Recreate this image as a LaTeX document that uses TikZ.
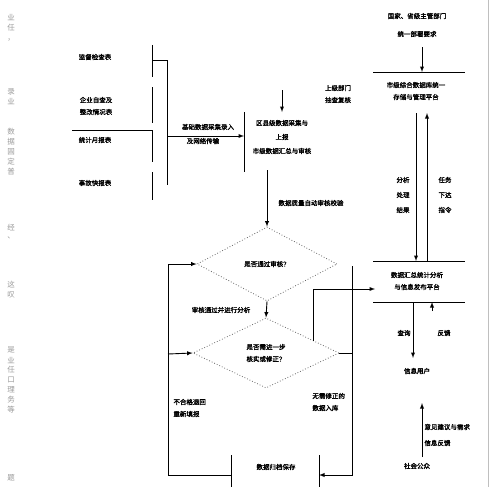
\documentclass[tikz,border=0pt]{standalone}
\usepackage{fontspec}
\setmainfont{Noto Sans CJK SC}
\newfontfamily\heavy{Noto Sans CJK SC}[FakeBold=1.6]
\usetikzlibrary{shapes.geometric,calc}
\tikzset{>=latex}
\tikzset{
  txt/.style={font=\heavy\fontsize{6.5}{12}\selectfont,align=center,inner sep=0pt},
  judge/.style={diamond,draw=black!60,dotted,thick,text=black,inner sep=0pt,
    font=\heavy\fontsize{6.5}{12}\selectfont,align=center},
  margin/.style={font=\fontsize{7.5}{8}\selectfont,text=black!40,inner sep=0pt}
}

\begin{document}
\begin{tikzpicture}[x=1pt,y=-1pt,line width=0.9pt]
    \useasboundingbox (0,0) rectangle (494,487);
    % neighbouring column of the page
    \foreach\ch/\yy in {业/18,任/28,，/40,录/92,业/101,数/132,据/142,固/152,定/162,普/172,
      经/228,、/238,这/285,叹/295,是/350,业/360,任/370,口/380,理/390,务/400,等/410,题/478}{
     \node[margin] at (11,\yy) {\ch};}
    \draw[black!25,line width=0.5pt] (488,0) -- (488,487);
    % sources
    \node[txt] (jc) at (95,57) {监督检查表};
    \node[txt] (zc) at (96,106) {企业自查及\\整改情况表};
    \node[txt] (tj) at (95,140) {统计月报表};
    \node[txt] (sg) at (95,183) {事故快报表};
    \draw (152,45) -- (152,77) (152,87) -- (152,123) (152,130) -- (152,162) (152,172) -- (152,200);
    \draw (72,130) -- (152,130);
    \draw (152,60) -- (167,60) -- (167,185);
    \coordinate (busout) at (167,136);
    \coordinate (qxin) at (244,136);
    \draw[->] (busout) -- (qxin);
    \node[txt] (cj) at (208,127) {基础数据采集录入};
    \node[txt] (cs) at (203,141) {及网络传输};
    % collection
    \draw (244,112) -- (244,172);
    \node[txt,font=\heavy\fontsize{6.5}{14}\selectfont] (qx) at (282,137) {区县级数据采集与\\上报\\市级数据汇总与审核};
    \coordinate (qxtop) at (282,90);
    \coordinate (qxarr) at (282,112);
    \draw[->] (qxtop) -- (qxarr);
    \node[txt] (bm) at (338,94) {上级部门\\抽查复核};
    \coordinate (qxout) at (267,170);
    \node[judge,minimum width=140pt,minimum height=74pt] (d1) at (267,264) {是否通过审核？};
    \node[judge,minimum width=146pt,minimum height=70pt] (d2) at (266,353) {是否需进一步\\核实或修正？};
    \draw[->] (qxout) -- (d1.north);
    \node[txt] (sh) at (311,203) {数据质量自动审核校验};
    \draw[->] (d1.south) -- (d2.north);
    \node[txt] (fx) at (221,310) {审核通过并进行分析};
    % end
    \draw (231,455) -- (231,487) (319,455) -- (319,487);
    \node[txt] (gd) at (276,467) {数据归档保存};
    \coordinate (endl) at (231,475);
    \coordinate (endr) at (319,475);
    \coordinate (lloop) at (168,354);
    \draw[->] (endl) -- ++(-63,0) |- (d1.west);
    \draw[->] (lloop) -- (d2.west);
    \node[txt,align=left,anchor=west] (th) at (173,408) {不合格退回\\重新填报};
    \coordinate (rloop) at (352,266);
    \draw (d2.east) -- (d2.east -| rloop);
    \draw[->] (rloop) |- (endr);
    \node[txt,align=left,anchor=west] (rk) at (312,402) {无需修正的\\数据入库};
    \coordinate (d2ne) at ($(d2.north)!0.65!(d2.east)$);
    \coordinate (hzin) at (375,289);
    \draw[->] (d2ne) |- (hzin);
    % right column
    \node[txt] (sj) at (417,25) {国家、省级主管部门\\[6pt]统一部署要求};
    \coordinate (sjout) at (422,47);
    \coordinate (skin) at (422,72);
    \draw[->] (sjout) -- (skin);
    \draw (373,72) -- (465,72) (373,261) -- (465,261) (373,302) -- (465,302);
    \node[txt] (sk) at (416,91) {市级综合数据库统一\\存储与管理平台};
    \coordinate (skl) at (416,113);
    \coordinate (hzl) at (416,261);
    \coordinate (skr) at (427,113);
    \coordinate (hzr) at (427,261);
    \draw[->] (skl) -- (hzl);
    \draw[->] (hzr) -- (skr);
    \node[txt,font=\heavy\fontsize{6.5}{15}\selectfont] (zl) at (403,195) {分析\\处理\\结果};
    \node[txt,font=\heavy\fontsize{6.5}{15}\selectfont] (zr) at (445,195) {任务\\下达\\指令};
    \node[txt] (hz) at (417,281) {数据汇总统计分析\\与信息发布平台};
    \coordinate (hzout) at (413,302);
    \coordinate (yhin) at (413,358);
    \draw[->] (hzout) -- (yhin);
    \coordinate (fkout) at (432,311);
    \coordinate (fkin) at (432,302);
    \draw[->] (fkout) -- (fkin);
    \node[txt] (cx) at (404,333) {查询};
    \node[txt] (fk) at (444,333) {反馈};
    \node[txt] (yh) at (417,371) {信息用户};
    \node[txt] (gz) at (417,466) {社会公众};
    \coordinate (gzout) at (422,457);
    \coordinate (yhup) at (422,403);
    \draw[->] (gzout) -- (yhup);
    \node[txt,align=left,anchor=west,font=\heavy\fontsize{6.5}{16}\selectfont] (yj) at (424,435) {意见建议与需求\\信息反馈};
  \end{tikzpicture}
\end{document}
